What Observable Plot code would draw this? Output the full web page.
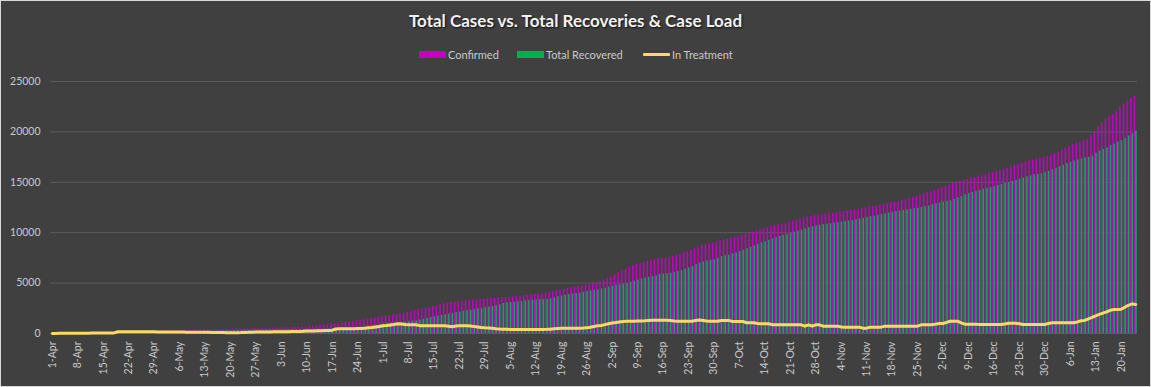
<!DOCTYPE html>
<html><head><meta charset="utf-8">
<script src="https://cdn.jsdelivr.net/npm/d3@7"></script>
<script src="https://cdn.jsdelivr.net/npm/@observablehq/plot@0.6"></script>
<style>
html,body{margin:0;padding:0;background:#404040;}
#frame{position:relative;width:1149px;height:385px;border:1px solid #d9d9d9;background:#404040;overflow:hidden;font-family:Lato,"Open Sans",sans-serif;}
#head{position:relative;height:68px;}
#title{position:absolute;top:9px;left:0;right:0;text-align:center;font-weight:700;font-size:17px;line-height:22px;color:#f2f2f2;text-shadow:1px 1px 2px #111;}
#legend{position:absolute;top:46px;left:0;width:100%;height:14px;font-size:11px;color:#c9c9c9;}
.item{position:absolute;top:0;display:flex;align-items:center;height:14px;white-space:nowrap;}
.sw{display:inline-block;width:27px;height:7px;margin-right:2px;}
.ln{display:inline-block;width:27px;height:3px;margin-right:2px;border-radius:1px;}
#chart svg{display:block;}
</style>
</head>
<body>
<div id="frame">
  <div id="head">
    <div id="title">Total Cases vs. Total Recoveries &amp; Case Load</div>
    <div id="legend"></div>
  </div>
  <div id="chart"></div>
</div>
<script>
// ---- data (daily, starting 1-Apr) ----
const startDate = "2020-04-01";
const seriesNames = ["Confirmed", "Total Recovered", "In Treatment"];
const seriesColors = ["#c400c4", "#00b050", "#ffd966"];
const yTicks = [0, 5000, 10000, 15000, 20000, 25000];
const xTickEvery = 7;

const confirmed = [
  10,12,15,18,20,25,28,30,33,35,38,40,45,48,50,55,60,65,
  160,170,175,180,185,190,200,205,210,220,230,240,250,
  290,300,305,310,315,320,330,335,340,350,
  355,360,370,375,380,390,400,405,410,420,
  430,440,450,460,470,480,490,500,510,520,
  530,540,550,560,570,580,595,610,625,650,
  680,710,750,790,830,870,910,960,1000,1050,
  1100,1150,1200,1250,1300,1360,1420,1480,1540,1600,
  1690,1740,1790,1840,1880,1950,2020,2100,2180,2280,
  2360,2440,2520,2600,2680,2760,2850,2940,3020,3060,
  3100,3140,3190,3220,3260,3300,3340,3370,3400,3430,
  3460,3490,3520,3550,3570,3600,3620,3650,3700,3750,
  3800,3840,3880,3920,3960,4000,4080,4160,4250,4330,
  4400,4470,4530,4600,4660,4720,4790,4860,4930,5000,
  5150,5300,5430,5600,5800,5990,6200,6400,6580,6750,
  6850,6920,7050,7150,7240,7320,7400,7450,7480,7510,
  7620,7730,7840,7980,8100,8230,8400,8560,8700,8820,
  8900,8960,9080,9200,9280,9350,9450,9550,9640,9750,
  9850,9950,10050,10150,10280,10380,10480,10580,10680,10780,
  10850,10950,11050,11150,11250,11350,11450,11550,11620,11680,
  11720,11780,11830,11870,11920,11980,12050,12100,12150,12200,
  12250,12320,12400,12470,12550,12610,12680,12750,12820,12890,
  12960,13030,13100,13200,13300,13400,13500,13620,13740,13860,
  13980,14100,14190,14350,14500,14620,14750,14880,15000,15100,
  15180,15260,15350,15450,15550,15650,15760,15860,15960,16070,
  16170,16280,16400,16520,16640,16760,16880,17000,17120,17230,
  17310,17390,17450,17560,17680,17820,17980,18150,18400,18550,
  18700,18850,18980,19100,19210,19600,19980,20500,20900,21250,
  21500,21650,22100,22450,22750,23050,23300,23550
];

const recovered = [
  0,0,0,0,0,0,0,0,0,0,0,0,0,0,0,0,0,0,0,0,
  5,8,10,15,20,25,35,45,55,70,85,
  95,110,120,130,145,160,175,190,200,210,
  215,225,235,245,255,265,275,285,295,305,
  310,315,320,325,330,335,340,345,350,355,
  360,365,370,375,380,385,390,395,400,405,
  410,415,420,430,440,450,460,500,540,580,
  540,560,590,620,660,700,740,790,840,900,
  960,1000,1040,1070,1090,1130,1160,1200,1230,1260,
  1340,1420,1500,1580,1650,1720,1790,1860,1930,1990,
  2060,2130,2200,2260,2320,2380,2440,2500,2560,2620,
  2680,2760,2850,2980,3040,3080,3110,3150,3190,3230,
  3270,3300,3320,3340,3360,3380,3450,3550,3650,3730,
  3800,3860,3920,3970,4000,4080,4160,4220,4270,4330,
  4420,4500,4600,4700,4770,4830,4900,4980,5090,5200,
  5300,5400,5500,5580,5650,5720,5850,5900,5940,5980,
  6060,6140,6250,6380,6510,6650,6820,6980,7100,7200,
  7260,7310,7450,7640,7700,7770,7900,8000,8130,8250,
  8400,8550,8700,8850,9000,9120,9250,9380,9500,9620,
  9720,9830,9940,10050,10160,10270,10390,10500,10600,10680,
  10740,10800,10850,10880,10950,11000,11060,11120,11170,11210,
  11280,11350,11420,11500,11580,11640,11720,11800,11880,11960,
  12040,12100,12150,12200,12260,12320,12370,12430,12500,12580,
  12660,12760,12860,12940,13040,13100,13160,13300,13450,13600,
  13750,13900,14000,14090,14200,14300,14400,14480,14560,14680,
  14780,14880,14980,15080,15180,15300,15420,15530,15640,15740,
  15800,15840,15950,16100,16250,16400,16550,16700,16850,16990,
  17100,17220,17330,17420,17490,17620,17880,18100,18270,18420,
  18650,18800,19000,19150,19350,19600,19800,20070
];

const inTreatment = [
  10,12,15,18,20,22,25,28,30,32,35,38,40,45,48,50,55,60,
  170,175,175,180,180,180,175,170,170,165,165,160,160,
  150,150,145,145,140,140,135,130,130,125,
  120,120,115,110,110,100,90,80,70,70,
  80,90,110,120,130,140,150,150,155,160,
  165,170,175,180,185,190,200,210,220,240,
  250,260,270,280,290,300,330,450,460,460,
  460,470,480,490,500,520,560,600,650,700,
  760,800,850,900,960,940,900,880,870,860,
  780,770,770,760,760,760,760,760,720,680,
  740,760,760,760,740,700,650,600,570,550,
  520,480,450,430,420,400,400,400,400,400,
  400,400,400,400,400,410,430,470,500,520,
  530,530,530,530,530,540,560,620,700,760,
  800,880,960,1040,1090,1150,1200,1220,1220,1220,
  1230,1240,1260,1290,1320,1320,1320,1320,1320,1300,
  1250,1220,1220,1220,1220,1220,1300,1350,1300,1240,
  1220,1220,1220,1290,1300,1300,1200,1190,1190,1190,
  1060,1060,1060,1000,960,960,960,880,860,860,
  860,860,860,860,860,860,730,860,730,860,
  860,730,730,730,730,730,640,630,630,630,
  630,630,530,530,630,630,630,630,730,730,
  730,730,730,730,730,730,730,730,860,860,
  860,860,930,990,990,1100,1220,1220,1220,1050,
  930,930,930,930,900,890,890,890,890,890,
  890,950,1020,1020,1020,960,890,890,890,890,
  890,890,890,1000,1060,1060,1060,1060,1060,1060,
  1060,1150,1260,1300,1460,1600,1750,1890,2020,2150,
  2300,2380,2380,2400,2600,2800,2940,2880
];

// ---- build table ----
const start = new Date(startDate + "T00:00:00Z");
const n = confirmed.length;
const dates = d3.range(n).map(i => d3.utcDay.offset(start, i));
const rows = dates.map((date, i) => ({date, confirmed: confirmed[i], recovered: recovered[i], treatment: inTreatment[i]}));
const tickDates = dates.filter((d, i) => i % xTickEvery === 0);
const fmt = d3.utcFormat("%-d-%b");

// ---- legend ----
const legend = document.getElementById("legend");
const legendX = [418, 516, 642];
seriesNames.forEach((name, i) => {
  const it = document.createElement("div");
  it.className = "item";
  it.style.left = legendX[i] + "px";
  const sw = document.createElement("span");
  sw.className = i === 2 ? "ln" : "sw";
  sw.style.background = seriesColors[i];
  it.appendChild(sw);
  it.appendChild(document.createTextNode(name));
  legend.appendChild(it);
});

// ---- chart ----
const off = h => d => d3.utcMinute.offset(d.date, h * 60);
const chart = Plot.plot({
  width: 1149,
  height: 317,
  marginLeft: 49,
  marginRight: 13,
  marginTop: 12,
  marginBottom: 53,
  style: {background: "transparent", color: "#c9c9c9", fontFamily: "Lato, 'Open Sans', sans-serif", fontSize: "10.5px"},
  x: {
    type: "utc",
    domain: [d3.utcHour.offset(dates[0], -12), d3.utcHour.offset(dates[n - 1], 12)],
    ticks: tickDates,
    tickFormat: fmt,
    tickRotate: -90,
    tickSize: 0,
    tickPadding: 8,
    label: null
  },
  y: {domain: [0, 25000], ticks: yTicks, tickSize: 0, tickPadding: 10, tickFormat: d => String(d), label: null},
  marks: [
    Plot.gridY(yTicks, {stroke: "#5c5c5c", strokeOpacity: 1}),
    Plot.rectY(rows, {x1: off(-10), x2: off(0), y1: 0, y2: "confirmed", fill: seriesColors[0]}),
    Plot.rectY(rows, {x1: off(0), x2: off(10.5), y1: 0, y2: "recovered", fill: seriesColors[1]}),
    Plot.line(rows, {x: "date", y: "treatment", stroke: seriesColors[2], strokeWidth: 3})
  ]
});
document.getElementById("chart").appendChild(chart);
</script>
</body></html>
